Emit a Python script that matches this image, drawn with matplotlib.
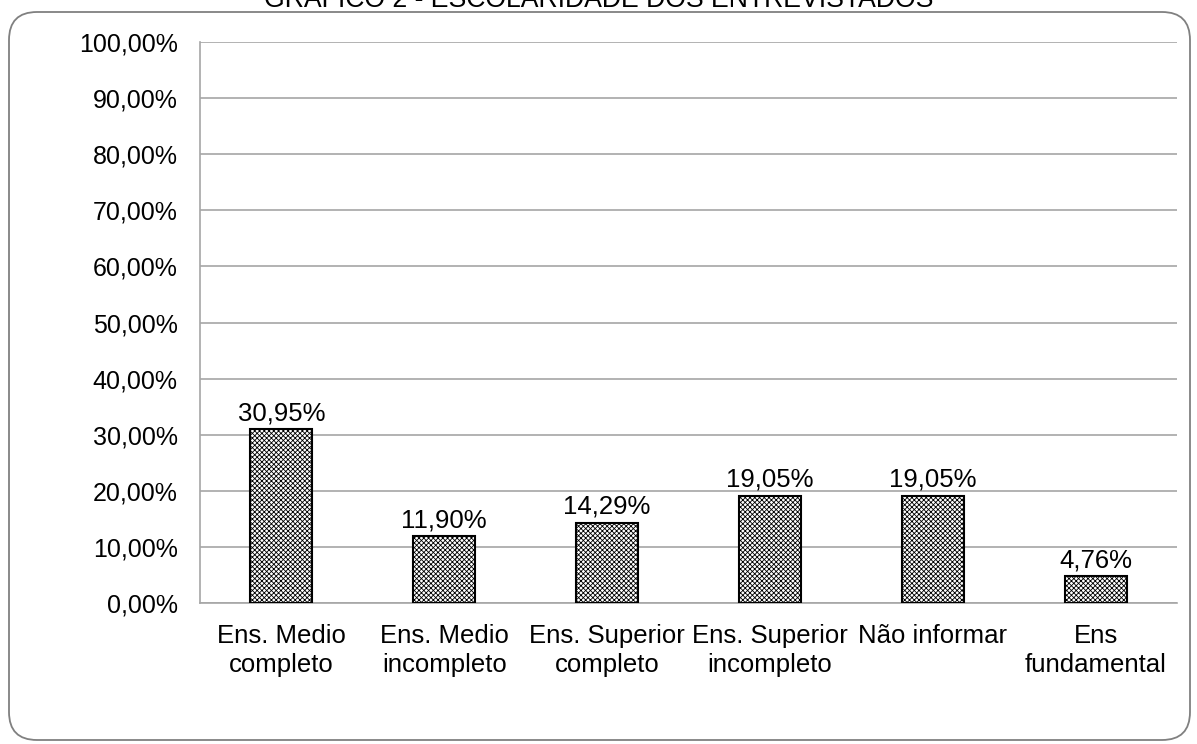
import matplotlib
matplotlib.use("Agg")
from matplotlib import pyplot as plt
from matplotlib.patches import FancyBboxPatch
from matplotlib.transforms import IdentityTransform

plt.rcParams['font.family'] = ['Liberation Sans', 'DejaVu Sans']
plt.rcParams['hatch.linewidth'] = 0.6

categories = ["Ens. Medio\ncompleto", "Ens. Medio\nincompleto", "Ens. Superior\ncompleto",
              "Ens. Superior\nincompleto", "Não informar", "Ens\nfundamental"]
values = [30.95, 11.90, 14.29, 19.05, 19.05, 4.76]
yticks = [0, 10, 20, 30, 40, 50, 60, 70, 80, 90, 100]

fig = plt.figure(figsize=(11.97, 7.44), dpi=100)
W, H = 1197, 744

# rounded frame round the chart (pixel coords, origin bottom-left)
frame = FancyBboxPatch((9, H - 740), 1190 - 9, 740 - 12,
                       boxstyle="round,pad=0,rounding_size=28",
                       transform=IdentityTransform(), fill=False,
                       edgecolor="#808080", linewidth=1.3)
fig.patches.append(frame)

ax = fig.add_axes([200 / W, 1 - 603 / H, (1177 - 200) / W, (603 - 42) / H])

xs = list(range(len(values)))
bars = ax.bar(xs, values, width=0.38, color="white", edgecolor="black",
              hatch="xxxxxxx", linewidth=1.5, zorder=3)

for x, v in zip(xs, values):
    ax.annotate(("%.2f%%" % v).replace(".", ","), (x, v), xytext=(0, 3),
                textcoords="offset points", ha="center", va="bottom", fontsize=18.5)

ax.set_xlim(-0.5, len(values) - 0.5)
ax.set_ylim(0, 100)
ax.set_yticks(yticks)
ax.set_yticklabels([("%.2f%%" % t).replace(".", ",") for t in yticks], fontsize=18)
ax.set_xticks(xs)
ax.set_xticklabels(categories, fontsize=18.5, linespacing=1.25)
ax.tick_params(axis="x", length=0, pad=15)
ax.tick_params(axis="y", length=0, pad=16)

ax.grid(axis="y", color="#a6a6a6", linewidth=1.2, zorder=0)
for s in ["top", "right"]:
    ax.spines[s].set_visible(False)
ax.spines["left"].set_color("#a6a6a6")
ax.spines["bottom"].set_color("#a6a6a6")
ax.spines["left"].set_linewidth(1.2)
ax.spines["bottom"].set_linewidth(1.2)

# title sits at the very top edge, as in the original
fig.text(0.5, 1 - 7 / H, "GRÁFICO 2 - ESCOLARIDADE DOS ENTREVISTADOS",
         ha="center", va="baseline", fontsize=19.2)

fig.savefig("out.png", dpi=100)
